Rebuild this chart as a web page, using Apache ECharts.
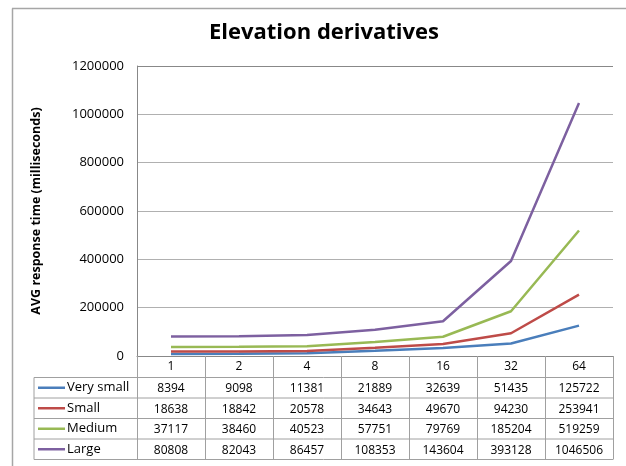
<!DOCTYPE html>
<html>
<head>
<meta charset="utf-8">
<script src="https://cdn.jsdelivr.net/npm/echarts@6/dist/echarts.min.js"></script>
<style>
  html, body { margin: 0; padding: 0; background: #fff; }
  #chart { width: 626px; height: 466px; }
</style>
</head>
<body>
<div id="chart"></div>
<script>
// Thread counts on the x axis
const threads = ['1', '2', '4', '8', '16', '32', '64'];

// Average response time (ms) per dataset size
const verySmall = [8394, 9098, 11381, 21889, 32639, 51435, 125722];
const small     = [18638, 18842, 20578, 34643, 49670, 94230, 253941];
const medium    = [37117, 38460, 40523, 57751, 79769, 185204, 519259];
const large     = [80808, 82043, 86457, 108353, 143604, 393128, 1046506];

const seriesNames = ['Very small', 'Small', 'Medium', 'Large'];
const seriesData = [verySmall, small, medium, large];
const seriesColors = ['#4a7ebb', '#be4b48', '#98b954', '#7d60a0'];

// Y axis range
const yMin = 0;
const yMax = 1200000;
const yStep = 200000;

const FONT = '"Open Sans", "DejaVu Sans", sans-serif';
const GRID = { left: 137, top: 66, right: 13, bottom: 110 };
const TABLE_LEFT = 34;
const HEADER_H = 21.5;
const ROW_H = 20.5;
const TABLE_LINE = '#a0a0a0';

const chart = echarts.init(document.getElementById('chart'), null, { renderer: 'canvas' });

chart.setOption({
  animation: false,
  backgroundColor: '#fff',
  title: {
    text: 'Elevation derivatives',
    left: 319,
    top: 17,
    textAlign: 'center',
    textStyle: { fontFamily: FONT, fontSize: 22, fontWeight: 'bold', color: '#000' }
  },
  grid: GRID,
  xAxis: {
    type: 'category',
    data: threads,
    boundaryGap: true,
    axisLine: { show: true, lineStyle: { color: '#888', width: 1 } },
    axisTick: { show: false },
    axisLabel: { margin: 5, fontFamily: FONT, fontSize: 12, color: '#000' },
    splitLine: { show: false }
  },
  yAxis: {
    type: 'value',
    min: yMin,
    max: yMax,
    interval: yStep,
    name: 'AVG response time (milliseconds)',
    nameLocation: 'middle',
    nameGap: 94,
    nameRotate: 90,
    nameTextStyle: { fontFamily: FONT, fontSize: 12.5, fontWeight: 'bold', color: '#000' },
    axisLine: { show: true, lineStyle: { color: '#888', width: 1 } },
    axisTick: { show: false },
    axisLabel: {
      margin: 13, fontFamily: FONT, fontSize: 13, color: '#000',
      formatter: v => String(v)
    },
    splitLine: { show: true, lineStyle: { color: ['#b0b0b0', '#b0b0b0', '#b0b0b0', '#b0b0b0', '#b0b0b0', '#b0b0b0', '#888'], width: 1 } }
  },
  series: seriesNames.map((name, i) => ({
    name: name,
    type: 'line',
    data: seriesData[i],
    symbol: 'none',
    lineStyle: { color: seriesColors[i], width: 2.5 },
    itemStyle: { color: seriesColors[i] },
    z: 3
  }))
});

// Data table under the plot, aligned with the category axis
function buildTable() {
  const gridBottom = 466 - GRID.bottom;
  const gridRight = 626 - GRID.right;
  const centers = threads.map(t => chart.convertToPixel({ xAxisIndex: 0 }, t));
  const step = centers[1] - centers[0];
  const rowTops = [];
  for (let r = 0; r <= seriesNames.length; r++) rowTops.push(gridBottom + HEADER_H + r * ROW_H);
  const tableBottom = rowTops[rowTops.length - 1];

  const els = [];
  const line = (x1, y1, x2, y2, color, w) => els.push({
    type: 'line', silent: true, z: 10,
    shape: { x1, y1, x2, y2 },
    style: { stroke: color, lineWidth: w }
  });

  // Outer chart frame
  line(12.5, 8.5, 12.5, 466, '#a6a6a6', 1.5);
  line(12, 8.5, 626, 8.5, '#a6a6a6', 1.5);

  // Horizontal row rules
  rowTops.forEach(y => line(TABLE_LEFT, y, gridRight, y, TABLE_LINE, 1));
  // Vertical rules: table left edge and category boundaries
  line(TABLE_LEFT, rowTops[0], TABLE_LEFT, tableBottom, TABLE_LINE, 1);
  for (let k = 0; k <= threads.length; k++) {
    const x = Math.round(centers[0] - step / 2 + k * step) + 0.5;
    line(x, gridBottom, x, tableBottom, TABLE_LINE, 1);
  }

  seriesNames.forEach((name, r) => {
    const cy = (rowTops[r] + rowTops[r + 1]) / 2;
    // legend key
    line(TABLE_LEFT + 4, cy, TABLE_LEFT + 31, cy, seriesColors[r], 2.5);
    els.push({
      type: 'text', silent: true, z: 11,
      x: TABLE_LEFT + 33, y: cy,
      style: { text: name, fontFamily: FONT, fontSize: 13, fill: '#000', align: 'left', verticalAlign: 'middle' }
    });
    seriesData[r].forEach((v, c) => {
      els.push({
        type: 'text', silent: true, z: 11,
        x: centers[c], y: cy + 1,
        style: { text: String(v), fontFamily: FONT, fontSize: 12, fill: '#000', align: 'center', verticalAlign: 'middle' }
      });
    });
  });

  chart.setOption({ graphic: { elements: els } });
}
buildTable();
</script>
</body>
</html>
